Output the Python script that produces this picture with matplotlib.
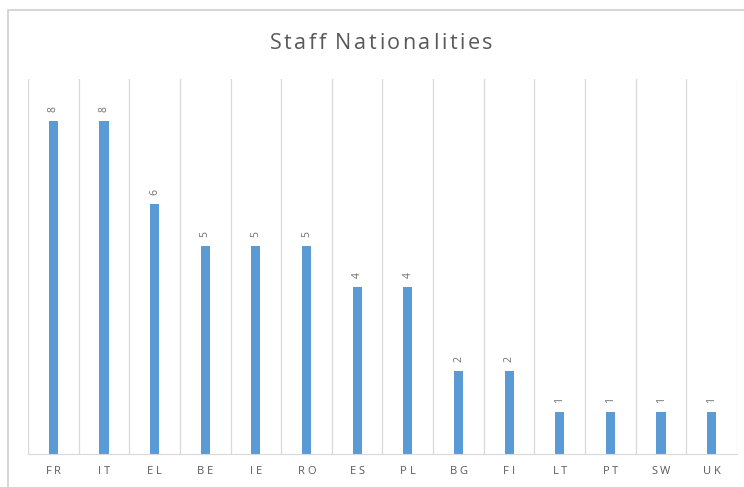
import numpy as np
import matplotlib.pyplot as plt
from matplotlib.patches import Rectangle
from matplotlib.font_manager import FontProperties

countries = ['FR', 'IT', 'EL', 'BE', 'IE', 'RO', 'ES', 'PL', 'BG', 'FI', 'LT', 'PT', 'SW', 'UK']
staff = [8, 8, 6, 5, 5, 5, 4, 4, 2, 2, 1, 1, 1, 1]

plt.rcParams['font.family'] = ['Open Sans', 'DejaVu Sans']
W, H = 744, 487
GREY = '#595959'

fig = plt.figure(figsize=(W / 100, H / 100), dpi=100)
renderer = fig.canvas.get_renderer()


def spaced_text(cx, cy, s, size, track):
    # draw text letter by letter with extra tracking, centred on (cx, cy) in pixels
    fp = FontProperties(family=['Open Sans', 'DejaVu Sans'], size=size)
    widths = [renderer.get_text_width_height_descent(c, fp, ismath=False)[0]
              if c != ' ' else size * 0.28 for c in s]
    total = sum(widths) + track * (len(s) - 1)
    x = cx - total / 2
    for c, w in zip(s, widths):
        fig.text(x / W, 1 - cy / H, c, fontproperties=fp, color=GREY,
                 ha='left', va='baseline')
        x += w + track


# chart frame (cut off on the right and bottom)
fig.patches.append(Rectangle((8 / W, -0.1), 1.0, 1 - 10 / H + 0.1,
                             transform=fig.transFigure, fill=False,
                             edgecolor='#d0d0d0', lw=1.2))

ax = fig.add_axes([28 / W, 33 / H, 709 / W, 375 / H])
x = np.arange(len(countries))
ax.bar(x, staff, width=0.18, color='#5b9bd5', zorder=2)

for xi, v in zip(x, staff):
    ax.text(xi, v + 0.22, str(v), rotation=90, ha='center', va='bottom',
            fontsize=7.5, color='#6f6f6f')

ax.set_xlim(-0.5, len(countries) - 0.5)
ax.set_ylim(0, 9)
ax.set_xticks(x)
ax.set_xticklabels([])
ax.tick_params(axis='x', length=0)
ax.set_yticks([])

# separators between categories
for b in np.arange(-0.5, len(countries), 1.0):
    ax.axvline(b, color='#d9d9d9', lw=0.9, zorder=1)

for s in ['top', 'left', 'right']:
    ax.spines[s].set_visible(False)
ax.spines['bottom'].set_color('#d9d9d9')

# category labels with letter spacing
for xi, c in zip(x, countries):
    px = ax.transData.transform((xi, 0))[0]
    spaced_text(px, 474, c, 8, 2.6)

spaced_text(381, 49, 'Staff Nationalities', 15.5, 2.6)

fig.savefig('out.png', dpi=100)
